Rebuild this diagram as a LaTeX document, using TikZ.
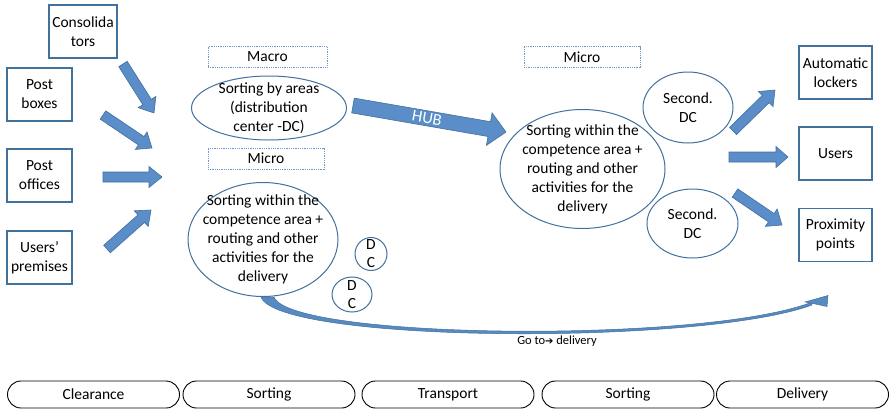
\documentclass[tikz,border=0pt]{standalone}
\usepackage{fontspec}
\setmainfont{Carlito}
\newfontfamily\symfont{DejaVu Sans}
\usetikzlibrary{shapes.geometric,shapes.misc,calc}

\definecolor{edgeblue}{RGB}{65,113,156}
\definecolor{arrowfill}{RGB}{91,142,200}
\definecolor{dotblue}{RGB}{110,150,200}

% Block arrow between two named points:
% [style] from, to, half shaft width, half head width, head length
\newcommand\blockarrow[6][]{%
  \path[blockarrow,#1] let \p1=(#2), \p2=(#3),
      \n1={atan2(\y2-\y1,\x2-\x1)}, \n2={veclen(\x2-\x1,\y2-\y1)} in
    {[shift={(\p1)}, rotate=\n1]
      (0,#4) -- (\n2-#6,#4) -- (\n2-#6,#5) -- (\n2,0) -- (\n2-#6,-#5)
      -- (\n2-#6,-#4) -- (0,-#4) -- cycle};
}

\begin{document}
\begin{tikzpicture}[x=1pt,y=-1pt,
  txt/.style={font=\fontsize{15.5}{19}\selectfont, text=black, align=center},
  srcbox/.style={txt, draw=edgeblue, line width=1.2pt, minimum width=65pt,
                 minimum height=53pt, inner sep=1pt},
  oval/.style={txt, ellipse, draw=edgeblue, line width=1pt, inner sep=-60pt},
  tagbox/.style={txt, draw=dotblue, line width=1pt,
                 dash pattern=on 0.9pt off 0.9pt, minimum height=21pt, inner sep=0pt},
  stage/.style={rounded rectangle, draw=black, line width=0.9pt,
                minimum width=172pt, minimum height=27pt, inner sep=0pt,
                font=\fontsize{15.5}{17}\selectfont},
  blockarrow/.style={fill=arrowfill, draw=edgeblue, line width=0.6pt, line join=miter},
  goarrow/.style={fill=arrowfill!85!edgeblue, draw=edgeblue, line width=0.5pt}]

\useasboundingbox (0,0) rectangle (889,410);
\fill[white] (0,0) rectangle (889,410);

% sources
\node[srcbox, minimum width=68pt] (cons) at (83,31.5) {Consolida\\tors};
\node[srcbox] (pbox) at (39.5,94.5) {Post\\boxes};
\node[srcbox] (poff) at (39.5,175.5) {Post\\offices};
\node[srcbox] (uprem) at (39.5,257.5) {Users’\\premises};

% first sorting stage
\node[tagbox, minimum width=119pt] (macro) at (267.5,57) {Macro};
\node[oval, minimum width=155pt, minimum height=64pt] (areas) at (269,108)
  {Sorting by areas\\(distribution\\center -DC)};
\node[tagbox, minimum width=116pt] (microL) at (266,158.5) {Micro};
\node[oval, minimum width=150pt, minimum height=114pt] (sortL) at (263,239.5)
  {Sorting within the\\competence area +\\routing and other\\activities for the\\delivery};
\node[oval, minimum width=32pt, minimum height=33pt, font=\fontsize{15.5}{18}\selectfont]
  (dc1) at (371,254) {D\\C};
\node[oval, minimum width=40pt, minimum height=35pt, font=\fontsize{15.5}{18}\selectfont]
  (dc2) at (352,294.5) {D\\C};

% second sorting stage
\node[tagbox, minimum width=116pt] (microR) at (582,57) {Micro};
\node[oval, minimum width=165pt, minimum height=119pt] (sortR) at (582.5,169)
  {Sorting within the\\competence area +\\routing and other\\activities for the\\delivery};
\node[oval, minimum width=90pt, minimum height=71pt] (sdc1) at (688,107.5) {Second.\\DC};
\node[oval, minimum width=91pt, minimum height=69pt] (sdc2) at (692.5,223.5) {Second.\\DC};

% destinations
\node[srcbox, minimum width=73pt] (lockers) at (835.5,72.5) {Automatic\\lockers};
\node[srcbox, minimum width=73pt] (users) at (835.5,153.5) {Users};
\node[srcbox, minimum width=73pt] (prox) at (835.5,235) {Proximity\\points};

% arrow end points
\coordinate (consA) at (123,64);   \coordinate (consB) at (154,113);
\coordinate (pboxA) at (103,115);  \coordinate (pboxB) at (152,148);
\coordinate (poffA) at (103,177);  \coordinate (poffB) at (162,177);
\coordinate (upreA) at (107,249);  \coordinate (upreB) at (151,210);
\coordinate (hubA) at (353,105.5); \coordinate (hubB) at (506,132);
\coordinate (lockA) at (733,131);  \coordinate (lockB) at (775,90);
\coordinate (userA) at (729,157);  \coordinate (userB) at (788,157);
\coordinate (proxA) at (735,193);  \coordinate (proxB) at (782,225);

\blockarrow{consA}{consB}{5}{10.5}{13}
\blockarrow{pboxA}{pboxB}{5}{10.5}{13}
\blockarrow{poffA}{poffB}{5}{10.5}{13}
\blockarrow{upreA}{upreB}{5}{10.5}{13}
\blockarrow{hubA}{hubB}{7.5}{16.5}{17}
\blockarrow{lockA}{lockB}{5}{10.5}{13}
\blockarrow{userA}{userB}{5}{10.5}{12}
\blockarrow{proxA}{proxB}{5}{10.5}{13}

\node[font=\fontsize{16.5}{18}\selectfont, text=white, rotate=-10] (hub) at (427,118) {HUB};

% curved "go to delivery" arrow, tapering from the ellipse towards the head
\coordinate (goS) at (sortL.south);
\coordinate (goE) at (828,295.5);
\path[goarrow] ($(goS)+(-2,0)$) .. controls (278,343) and (700,346) .. (812,305)
  -- (811,302.5) .. controls (700,344) and (290,339) .. ($(goS)+(11,0)$) -- cycle;
\path[goarrow] (goE) -- (805,302) -- (813,303.5) -- (827,306.5) -- cycle;
\node[font=\fontsize{12.5}{14}\selectfont] (golabel) at (557,341)
  {Go to{\symfont\fontsize{10}{12}\selectfont ➔} delivery};

% process stages
\node[stage] (st1) at (93.5,394.5) {Clearance};
\node[stage] (st2) at (269,394.5) {Sorting};
\node[stage] (st3) at (448,394.5) {Transport};
\node[stage] (st4) at (628,394.5) {Sorting};
\node[stage] (st5) at (802.5,394.5) {Delivery};

\end{tikzpicture}
\end{document}
